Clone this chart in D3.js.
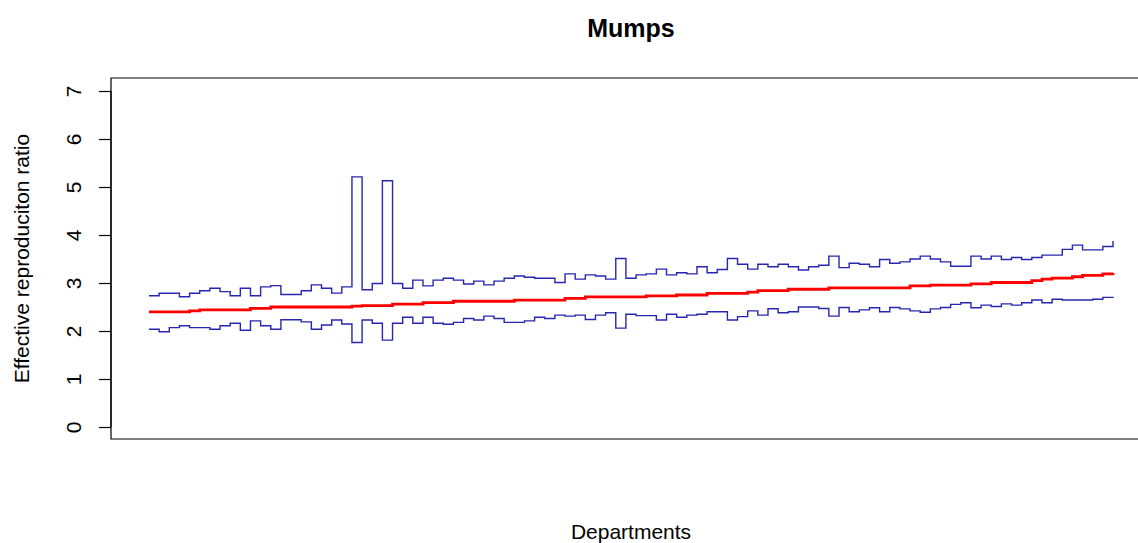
<!DOCTYPE html>
<html>
<head>
<meta charset="utf-8">
<script src="https://cdn.jsdelivr.net/npm/d3@7"></script>
<style>
  body { margin: 0; background: #fff; }
  svg { display: block; font-family: "Liberation Sans", Arial, sans-serif; }
</style>
</head>
<body>
<div id="chart"></div>
<script>
// Upper / lower bounds and estimate of the effective reproduction ratio, one per department
const upper = [
  2.735, 2.785, 2.785, 2.715, 2.785, 2.84, 2.89, 2.82, 2.735, 2.89,
  2.735, 2.92, 2.945, 2.76, 2.76, 2.84, 2.96, 2.89, 2.79, 2.92,
  5.21, 2.86, 2.99, 5.13, 2.99, 2.89, 3.06, 2.94, 3.06, 3.10,
  3.06, 2.98, 3.04, 2.96, 3.04, 3.10, 3.146, 3.12, 3.10, 3.10,
  3.01, 3.19, 3.08, 3.17, 3.146, 3.08, 3.51, 3.10, 3.17, 3.19,
  3.29, 3.17, 3.215, 3.19, 3.34, 3.215, 3.28, 3.51, 3.39, 3.29,
  3.39, 3.34, 3.39, 3.34, 3.27, 3.34, 3.37, 3.56, 3.32, 3.41,
  3.39, 3.34, 3.49, 3.41, 3.44, 3.50, 3.56, 3.50, 3.44, 3.35,
  3.35, 3.56, 3.50, 3.56, 3.49, 3.53, 3.49, 3.53, 3.58, 3.58,
  3.70, 3.79, 3.69, 3.69, 3.76, 3.875
];

const lower = [
  2.035, 1.985, 2.07, 2.11, 2.07, 2.07, 2.035, 2.11, 2.16, 2.015,
  2.21, 2.11, 2.035, 2.235, 2.235, 2.19, 2.035, 2.125, 2.23, 2.145,
  1.76, 2.23, 2.16, 1.81, 2.16, 2.285, 2.16, 2.285, 2.16, 2.14,
  2.18, 2.26, 2.23, 2.31, 2.26, 2.18, 2.18, 2.21, 2.285, 2.26,
  2.33, 2.31, 2.33, 2.24, 2.33, 2.38, 2.06, 2.35, 2.32, 2.32,
  2.23, 2.35, 2.285, 2.33, 2.35, 2.40, 2.40, 2.23, 2.30, 2.42,
  2.33, 2.465, 2.38, 2.40, 2.50, 2.50, 2.47, 2.31, 2.49, 2.40,
  2.44, 2.485, 2.40, 2.49, 2.46, 2.42, 2.39, 2.46, 2.49, 2.555,
  2.59, 2.485, 2.54, 2.51, 2.565, 2.54, 2.59, 2.645, 2.59, 2.66,
  2.645, 2.645, 2.645, 2.66, 2.70, 2.715
];

const estimate = [
  2.40, 2.40, 2.40, 2.40, 2.42, 2.44, 2.44, 2.44, 2.44, 2.44,
  2.47, 2.47, 2.50, 2.50, 2.50, 2.50, 2.50, 2.50, 2.50, 2.50,
  2.52, 2.53, 2.53, 2.53, 2.56, 2.56, 2.56, 2.59, 2.59, 2.59,
  2.62, 2.62, 2.62, 2.62, 2.62, 2.62, 2.645, 2.645, 2.645, 2.645,
  2.645, 2.68, 2.68, 2.71, 2.71, 2.71, 2.71, 2.71, 2.71, 2.73,
  2.73, 2.73, 2.75, 2.75, 2.75, 2.785, 2.785, 2.785, 2.785, 2.81,
  2.84, 2.84, 2.84, 2.87, 2.87, 2.87, 2.87, 2.90, 2.90, 2.90,
  2.90, 2.90, 2.90, 2.90, 2.90, 2.94, 2.94, 2.955, 2.955, 2.955,
  2.955, 2.98, 2.98, 3.01, 3.01, 3.01, 3.01, 3.05, 3.08, 3.10,
  3.10, 3.13, 3.16, 3.16, 3.19, 3.21
];

const yTicks = [0, 1, 2, 3, 4, 5, 6, 7];

const width = 1138;
const height = 543;

// plot box (right edge falls outside the window, as in the original)
const box = { left: 111, right: 1151, top: 78, bottom: 439 };

const dept = upper.map((d, i) => i + 1);

const xScale = d3.scaleLinear()
    .domain([1, dept.length])
    .range([149, 1113]);

const yScale = d3.scaleLinear()
    .domain([0, 7])
    .range([427, 91]);

const svg = d3.select("#chart")
    .append("svg")
    .attr("width", width)
    .attr("height", height);

// step line generator, like R's type = "s"
const stepLine = d3.line()
    .x((d, i) => xScale(dept[i]))
    .y(d => yScale(d))
    .curve(d3.curveStepAfter);

svg.append("path")
    .datum(upper)
    .attr("fill", "none")
    .attr("stroke", "#2626b0")
    .attr("stroke-width", 1.4)
    .attr("d", stepLine);

svg.append("path")
    .datum(lower)
    .attr("fill", "none")
    .attr("stroke", "#2626b0")
    .attr("stroke-width", 1.4)
    .attr("d", stepLine);

svg.append("path")
    .datum(estimate)
    .attr("fill", "none")
    .attr("stroke", "#ff0000")
    .attr("stroke-width", 2.8)
    .attr("d", stepLine);

// box: top, left, bottom
svg.append("path")
    .attr("fill", "none")
    .attr("stroke", "#000")
    .attr("stroke-width", 1.2)
    .attr("d", `M${box.right},${box.top}H${box.left}V${box.bottom}H${box.right}`);

// y-axis with labels parallel to the axis
const yAxis = svg.append("g")
    .attr("transform", `translate(${box.left},0)`)
    .call(d3.axisLeft(yScale).tickValues(yTicks).tickSize(12).tickFormat(d3.format("d")));

yAxis.select(".domain")
    .attr("d", `M0,${yScale(0)}V${yScale(7)}`)
    .attr("stroke-width", 1.2);

yAxis.selectAll(".tick line").attr("stroke-width", 1.2);

yAxis.selectAll(".tick text")
    .attr("x", null)
    .attr("dy", null)
    .attr("transform", "translate(-30,0) rotate(-90)")
    .attr("text-anchor", "middle")
    .style("font-size", "21px")
    .style("font-family", "Liberation Sans, Arial, sans-serif")
    .attr("fill", "#000");

// title
svg.append("text")
    .attr("x", (box.left + box.right) / 2)
    .attr("y", 37)
    .attr("text-anchor", "middle")
    .style("font-size", "25px")
    .style("font-weight", "bold")
    .text("Mumps");

// axis labels
svg.append("text")
    .attr("x", (box.left + box.right) / 2)
    .attr("y", 539)
    .attr("text-anchor", "middle")
    .style("font-size", "21px")
    .text("Departments");

svg.append("text")
    .attr("transform", `translate(29,${(box.top + box.bottom) / 2}) rotate(-90)`)
    .attr("text-anchor", "middle")
    .style("font-size", "21px")
    .text("Effective reproduciton ratio");
</script>
</body>
</html>
